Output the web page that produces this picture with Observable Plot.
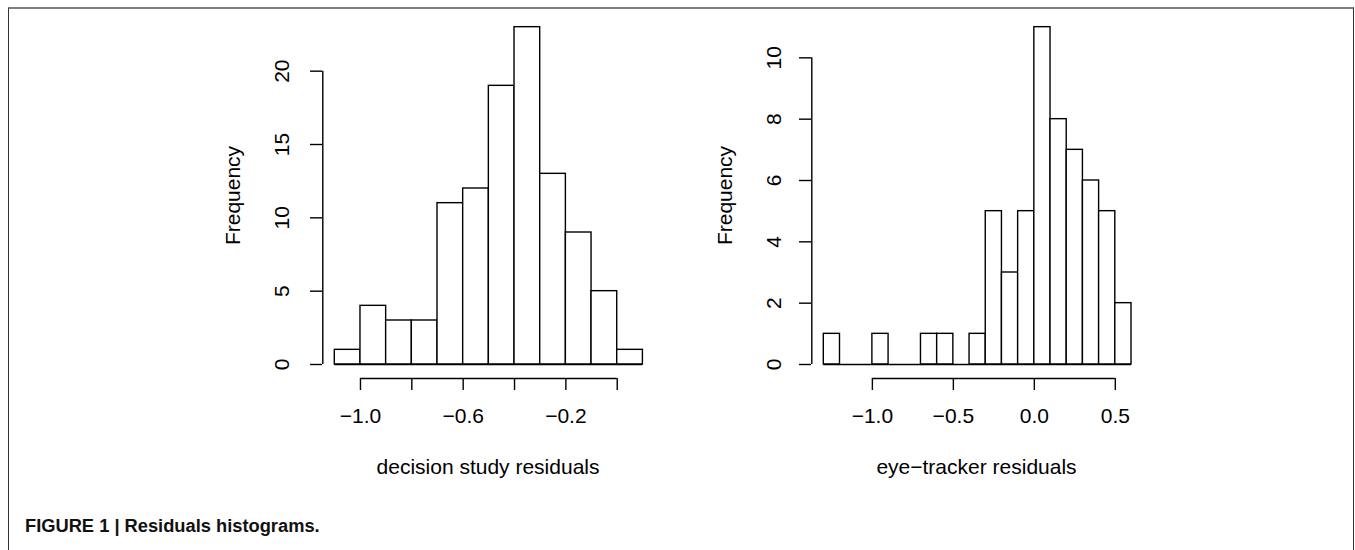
<!DOCTYPE html>
<html><head><meta charset="utf-8">
<script src="https://cdn.jsdelivr.net/npm/d3@7"></script>
<script src="https://cdn.jsdelivr.net/npm/@observablehq/plot@0.6"></script>
<style>
html,body{margin:0;padding:0;background:#fff;width:1355px;height:550px;overflow:hidden;font-family:"Liberation Sans",Arial,sans-serif;}
#frame{position:absolute;left:8px;top:7px;width:1346px;height:600px;border-top:2px solid #808080;border-left:1.5px solid #333;border-right:1.5px solid #333;box-sizing:border-box;z-index:5;pointer-events:none;}
#p1{position:absolute;left:200px;top:0;}
#p2{position:absolute;left:700px;top:0;}
#caption{position:absolute;left:25px;top:517px;font-weight:bold;font-size:18.3px;line-height:1;color:#111;white-space:nowrap;}
</style>
</head><body>
<div id="frame"></div>
<div id="p1"></div>
<div id="p2"></div>
<div id="caption">FIGURE 1 | Residuals histograms.</div>
<script>
// Left panel: decision study residuals
const leftEdges = [-1.1, -1.0, -0.9, -0.8, -0.7, -0.6, -0.5, -0.4, -0.3, -0.2, -0.1, 0.0, 0.1];
const leftCounts = [1, 4, 3, 3, 11, 12, 19, 23, 13, 9, 5, 1];
const leftXTicks = [-1.0, -0.8, -0.6, -0.4, -0.2, 0.0];
const leftXLabels = [-1.0, -0.6, -0.2];
const leftYTicks = [0, 5, 10, 15, 20];
const leftXTitle = "decision study residuals";

// Right panel: eye-tracker residuals
const rightEdges = [-1.3, -1.2, -1.1, -1.0, -0.9, -0.8, -0.7, -0.6, -0.5, -0.4, -0.3, -0.2, -0.1, 0.0, 0.1, 0.2, 0.3, 0.4, 0.5, 0.6];
const rightCounts = [1, 0, 0, 1, 0, 0, 1, 1, 0, 1, 5, 3, 5, 11, 8, 7, 6, 5, 2];
const rightXTicks = [-1.0, -0.5, 0.0, 0.5];
const rightXLabels = [-1.0, -0.5, 0.0, 0.5];
const rightYTicks = [0, 2, 4, 6, 8, 10];
const rightXTitle = "eye\u2212tracker residuals";

const yTitle = "Frequency";
const fmt = d3.format(".1f");
const FS = 21;

function hist(el, cfg) {
  const bins = cfg.counts.map((c, i) => ({x1: cfg.edges[i], x2: cfg.edges[i + 1], count: c}));
  const lw = 1.4;
  const plot = Plot.plot({
    width: 470,
    height: 490,
    marginLeft: cfg.marginLeft,
    marginRight: cfg.marginRight,
    marginTop: 12,
    marginBottom: 112,
    x: {domain: [cfg.edges[0], cfg.edges[cfg.edges.length - 1]], range: cfg.xRange},
    y: {domain: [0, d3.max(cfg.counts)], range: [364, 26.67]},
    style: {fontFamily: "Liberation Sans, Arial, sans-serif", fontSize: FS + "px", color: "black", background: "transparent", overflow: "visible"},
    marks: [
      Plot.rectY(bins, {x1: "x1", x2: "x2", y1: 0, y2: "count", fill: "white", stroke: "black", strokeWidth: lw}),
      Plot.ruleY([0], {x1: cfg.edges[0], x2: cfg.edges[cfg.edges.length - 1], stroke: "black", strokeWidth: lw}),
      // y axis
      Plot.ruleX([cfg.edges[0]], {y1: cfg.yTicks[0], y2: cfg.yTicks[cfg.yTicks.length - 1], dx: -12, stroke: "black", strokeWidth: lw}),
      Plot.axisY(cfg.yTicks, {anchor: "left", tickSize: 12, tickFormat: () => "", label: null, stroke: "black", strokeWidth: lw}),
      Plot.text(cfg.yTicks, {y: d => d, text: d => String(d), frameAnchor: "left", dx: cfg.yLabelDx, rotate: -90, lineAnchor: "middle", textAnchor: "middle", fontSize: FS, fill: "black"}),
      Plot.text([yTitle], {text: d => d, frameAnchor: "left", dx: cfg.yTitleDx, rotate: -90, lineAnchor: "middle", textAnchor: "middle", fontSize: FS, fill: "black"}),
      // x axis
      Plot.ruleY([0], {x1: cfg.xTicks[0], x2: cfg.xTicks[cfg.xTicks.length - 1], dy: 14, stroke: "black", strokeWidth: lw}),
      Plot.axisX(cfg.xTicks, {anchor: "bottom", tickSize: 12, tickFormat: () => "", label: null, stroke: "black", strokeWidth: lw}),
      Plot.text(cfg.xLabels, {x: d => d, text: d => fmt(d), frameAnchor: "bottom", dy: 38, lineAnchor: "middle", fontSize: FS, fill: "black"}),
      Plot.text([cfg.xTitle], {text: d => d, frameAnchor: "bottom", dy: 89, lineAnchor: "middle", fontSize: FS, fill: "black"})
    ]
  });
  document.getElementById(el).appendChild(plot);
}

hist("p1", {
  edges: leftEdges, counts: leftCounts, xTicks: leftXTicks, xLabels: leftXLabels, yTicks: leftYTicks, xTitle: leftXTitle,
  marginLeft: 122, marginRight: 17, xRange: [134.3, 442.4], yLabelDx: -40, yTitleDx: -89
});
hist("p2", {
  edges: rightEdges, counts: rightCounts, xTicks: rightXTicks, xLabels: rightXLabels, yTicks: rightYTicks, xTitle: rightXTitle,
  marginLeft: 111, marginRight: 29, xRange: [123.3, 431], yLabelDx: -37, yTitleDx: -86
});
</script>
</body></html>
